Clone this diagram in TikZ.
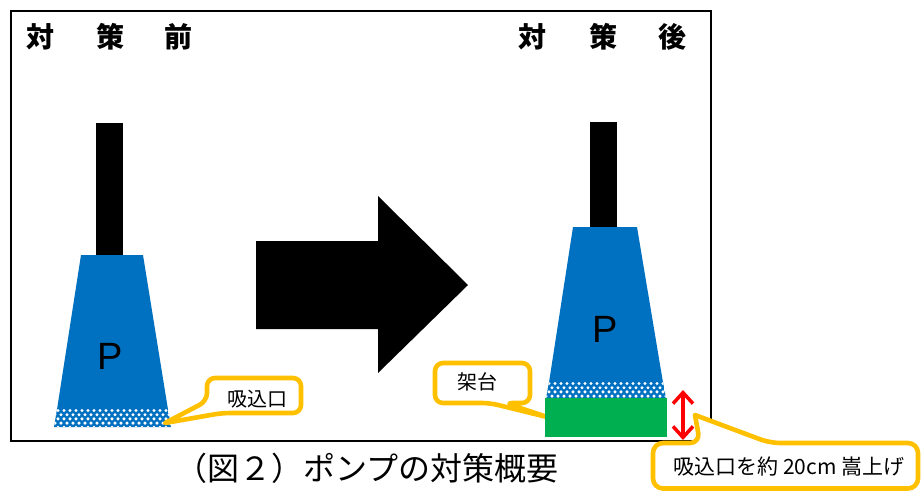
\documentclass[tikz,border=0pt]{standalone}
\usepackage{fontspec}
\setmainfont{Liberation Sans}
\newfontfamily\jp{Noto Sans CJK JP}
\usetikzlibrary{arrows.meta}
\definecolor{pumpblue}{HTML}{0070C0}
\definecolor{basegreen}{HTML}{00B050}
\definecolor{calloutorange}{HTML}{FFC000}
\tikzset{
  pipe/.style={fill=black, draw=none},
  pumpbody/.style={fill=pumpblue, draw=none},
  callout/.style={draw=calloutorange, fill=white, line width=4.6pt, line join=round},
  title/.style={font=\jp\bfseries\fontsize{28}{30}\selectfont, inner sep=0pt},
  label/.style={font=\jp\fontsize{20}{22}\selectfont, inner sep=0pt},
  plabel/.style={font=\fontsize{38}{40}\selectfont, inner sep=0pt},
}
% white mesh of the suction screen, clipped to the given outline
\newcommand{\suctionmesh}[4]{% #1 outline path, #2 top, #3 left start, #4 bottom
  \begin{scope}
    \clip #1;
    \fill[pumpblue] #1;
    \foreach \row in {0,...,4}{
      \pgfmathsetmacro{\yy}{#2+1.5+\row*4.2}
      \pgfmathsetmacro{\shift}{mod(\row,2)*3}
      \foreach \col in {0,...,22}{
        \fill[white] ({#3+\shift+\col*6},\yy) circle (1.7);
      }
    }
  \end{scope}}
\begin{document}
\begin{tikzpicture}[x=1pt, y=-1pt]
  \useasboundingbox (0,0) rectangle (921,491);
  % frame
  \draw[line width=1.6pt] (11,11) rectangle (711,441);

  % titles
  \node[title] (tb1) at (40,37) {対};
  \node[title] (tb2) at (110,37) {策};
  \node[title] (tb3) at (178,37) {前};
  \node[title] (ta1) at (532,37) {対};
  \node[title] (ta2) at (603,37) {策};
  \node[title] (ta3) at (672,37) {後};

  % pump before the measure
  \fill[pipe] (96,123) rectangle (123,256);
  \fill[pumpbody] (81,255) -- (143,255) -- (168,409.5) -- (57,409.5) -- cycle;
  \suctionmesh{(57,409) -- (168,409) -- (171,427) -- (54,427) -- cycle}{409}{52}{427}
  \node[plabel] (p1) at (110,356) {P};

  % big arrow
  \fill[black] (256,241) -- (378,241) -- (378,196) -- (468,285) -- (378,373) -- (378,329) -- (256,329) -- cycle;

  % pump after the measure
  \fill[pipe] (590,122) rectangle (617,228);
  \fill[pumpbody] (573,227) -- (637,227) -- (663,382.5) -- (549,382.5) -- cycle;
  \suctionmesh{(549,382) -- (663,382) -- (666,398) -- (546,398) -- cycle}{382}{543}{398}

  % callout: base
  \path[callout, rounded corners=8pt]
    (435,363) -- (530,363) -- (530,403) -- (505,403) [sharp corners] -- (547,417) [rounded corners=8pt] -- (490,403) -- (435,403) -- cycle;
  \node[label] (lbase) at (477,382) {架台};

  \fill[basegreen] (545,398) rectangle (667,436.5);
  \node[plabel] (p2) at (605,329) {P};

  % callout: suction inlet
  \path[callout, rounded corners=8pt]
    (207,378) -- (301,378) -- (301,413) -- (222,413) [sharp corners] -- (165,423) [rounded corners=8pt] -- (207,401) -- cycle;
  \node[label] (linlet) at (257,399) {吸込口};

  % raise height marker
  \coordinate (rtop) at (683,390);
  \coordinate (rbot) at (683,440);
  \draw[red, line width=3.5pt, {Straight Barb[length=11pt,width=20pt]}-{Straight Barb[length=11pt,width=20pt]}] (rtop) -- (rbot);

  % callout: raise note
  \path[callout, rounded corners=10pt]
    (653,443) -- (700,443) [sharp corners] -- (695,415) [rounded corners=10pt] -- (770,443) -- (918,443) -- (918,488.5) -- (653,488.5) -- cycle;
  \node[label, font=\jp\fontsize{21}{23}\selectfont] (lraise) at (789,467) {吸込口を約 20cm 嵩上げ};

  % caption
  \node[inner sep=0pt, font=\jp\fontsize{32}{34}\selectfont] (cap) at (367,468) {（図２）ポンプの対策概要};
\end{tikzpicture}
\end{document}
